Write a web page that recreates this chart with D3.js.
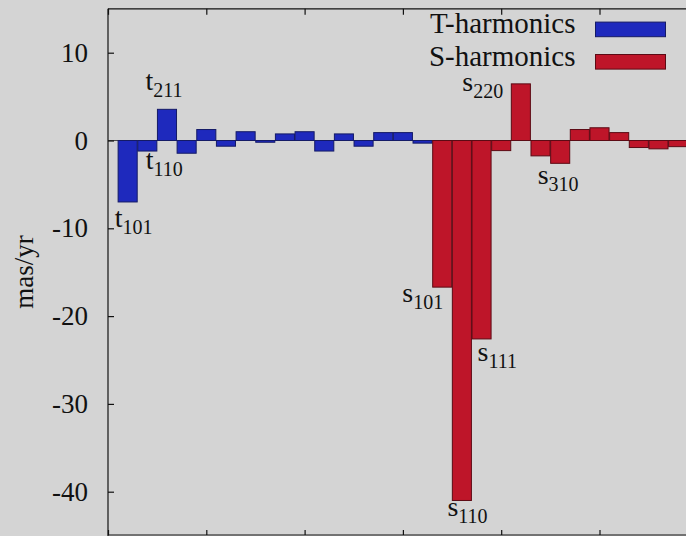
<!DOCTYPE html>
<html>
<head>
<meta charset="utf-8">
<script src="https://cdn.jsdelivr.net/npm/d3@7"></script>
<style>
  html, body { margin: 0; padding: 0; background: #d4d4d4; }
  svg { display: block; }
  text { font-family: "Liberation Serif", "DejaVu Serif", serif; fill: #111; }
</style>
</head>
<body>
<svg id="chart" width="686" height="536"></svg>
<script>
// Toroidal (T) and spheroidal (S) vector spherical harmonic coefficients, mas/yr
const tValues = [-7.0, -1.2, 3.55, -1.45, 1.25, -0.65, 1.0, -0.2, 0.75, 1.0, -1.2, 0.75, -0.65, 0.9, 0.9, -0.3];
const sValues = [-16.7, -41.0, -22.6, -1.15, 6.45, -1.75, -2.6, 1.25, 1.45, 0.9, -0.8, -0.95, -0.7];
const seriesNames = ["T-harmonics", "S-harmonics"];
const yTicks = [-40, -30, -20, -10, 0, 10];
const xTicks = [0, 5, 10, 15, 20, 25, 30];
// named coefficients: [series, position within series, letter, subscript]
const namedTerms = [
  ["T", 0, "t", "101"],
  ["T", 1, "t", "110"],
  ["T", 2, "t", "211"],
  ["S", 0, "s", "101"],
  ["S", 1, "s", "110"],
  ["S", 2, "s", "111"],
  ["S", 4, "s", "220"],
  ["S", 6, "s", "310"]
];

const svg = d3.select("#chart");
const W = 686, H = 536;
const plotLeft = 108, plotTop = 8.8, plotBottom = 535.6;
const pitch = 19.66;

const x = d3.scaleLinear().domain([0, 30]).range([plotLeft, plotLeft + 30 * pitch]);
const y = d3.scaleLinear().domain([-45, 15]).range([plotBottom, plotTop]);

const colors = {
  T: { fill: "#1e29bd", stroke: "#141a66" },
  S: { fill: "#be1529", stroke: "#5c0a14" }
};

// build bar records: T coefficients first, S coefficients follow
const bars = [];
tValues.forEach((v, i) => bars.push({ series: "T", idx: i, pos: i + 1, value: v }));
sValues.forEach((v, i) => bars.push({ series: "S", idx: i, pos: tValues.length + i + 1, value: v }));

const plot = svg.append("g");

// zero axis
plot.append("line")
  .attr("x1", x(0)).attr("x2", W)
  .attr("y1", y(0)).attr("y2", y(0))
  .attr("stroke", "#4a4a4a").attr("stroke-width", 1.2);

const bw = pitch * 0.97;
plot.selectAll("rect.bar").data(bars).enter().append("rect")
  .attr("class", "bar")
  .attr("x", d => x(d.pos) - bw / 2)
  .attr("width", bw)
  .attr("y", d => y(Math.max(0, d.value)))
  .attr("height", d => Math.abs(y(d.value) - y(0)))
  .attr("fill", d => colors[d.series].fill)
  .attr("stroke", d => colors[d.series].stroke)
  .attr("stroke-width", 1);

// frame lines (left, top, bottom)
const frame = svg.append("g").attr("stroke", "#111").attr("stroke-width", 1.2);
frame.append("line").attr("x1", plotLeft).attr("x2", plotLeft).attr("y1", plotTop).attr("y2", H);
frame.append("line").attr("x1", plotLeft).attr("x2", W).attr("y1", plotTop).attr("y2", plotTop);
frame.append("line").attr("x1", plotLeft).attr("x2", W).attr("y1", plotBottom - 0.6).attr("y2", plotBottom - 0.6);

// y axis: inward ticks, labels on the left (plain hyphen for negatives)
const yAxis = d3.axisLeft(y).tickValues(yTicks).tickSizeInner(-6).tickSizeOuter(0)
  .tickFormat(d => String(d));
const gy = svg.append("g").attr("transform", `translate(${plotLeft},0)`).call(yAxis);
gy.select(".domain").remove();
gy.selectAll(".tick line").attr("stroke", "#111").attr("stroke-width", 1.2);
gy.selectAll(".tick text")
  .attr("x", -20)
  .attr("font-size", 27)
  .attr("fill", "#111");

// x ticks on top and bottom borders (labels fall outside the view)
const gxTop = svg.append("g").attr("transform", `translate(0,${plotTop})`)
  .call(d3.axisTop(x).tickValues(xTicks).tickSizeInner(-6).tickSizeOuter(0).tickFormat(""));
gxTop.select(".domain").remove();
gxTop.selectAll(".tick line").attr("stroke", "#111").attr("stroke-width", 1.2);
const gxBot = svg.append("g").attr("transform", `translate(0,${plotBottom - 0.6})`)
  .call(d3.axisBottom(x).tickValues(xTicks).tickSizeInner(-5).tickSizeOuter(0).tickFormat(""));
gxBot.select(".domain").remove();
gxBot.selectAll(".tick line").attr("stroke", "#111").attr("stroke-width", 1.2);

// y axis title
svg.append("text")
  .attr("transform", `translate(33,272) rotate(-90)`)
  .attr("text-anchor", "middle")
  .attr("font-size", 27)
  .text("mas/yr");

// coefficient names placed next to the end of their bars
const labelOffset = {
  t101: [-13, 25], t110: [-1.5, 17.5], t211: [-21.5, -19.5],
  s101: [-40, 14.5], s110: [-14.5, 15.5], s111: [-4, 22.5],
  s220: [-58.5, 7], s310: [-22.5, 20.5]
};
namedTerms.forEach(([series, idx, letter, sub]) => {
  const b = bars.find(d => d.series === series && d.idx === idx);
  const off = labelOffset[letter + sub];
  const t = svg.append("text")
    .attr("x", x(b.pos) + off[0])
    .attr("y", y(b.value) + off[1])
    .attr("font-size", 28);
  t.append("tspan").text(letter);
  t.append("tspan").attr("dy", 7).attr("font-size", 20).text(sub);
});

// legend
const legend = svg.append("g");
const legendRows = [
  { name: seriesNames[0], key: "T", yc: 29.4 },
  { name: seriesNames[1], key: "S", yc: 61.8 }
];
legendRows.forEach(r => {
  legend.append("text")
    .attr("x", 575.5).attr("y", r.yc + 4)
    .attr("text-anchor", "end")
    .attr("font-size", 29)
    .text(r.name);
  legend.append("rect")
    .attr("x", 595.5).attr("y", r.yc - 7.3)
    .attr("width", 70).attr("height", 14.6)
    .attr("fill", colors[r.key].fill)
    .attr("stroke", colors[r.key].stroke)
    .attr("stroke-width", 1);
});
</script>
</body>
</html>
